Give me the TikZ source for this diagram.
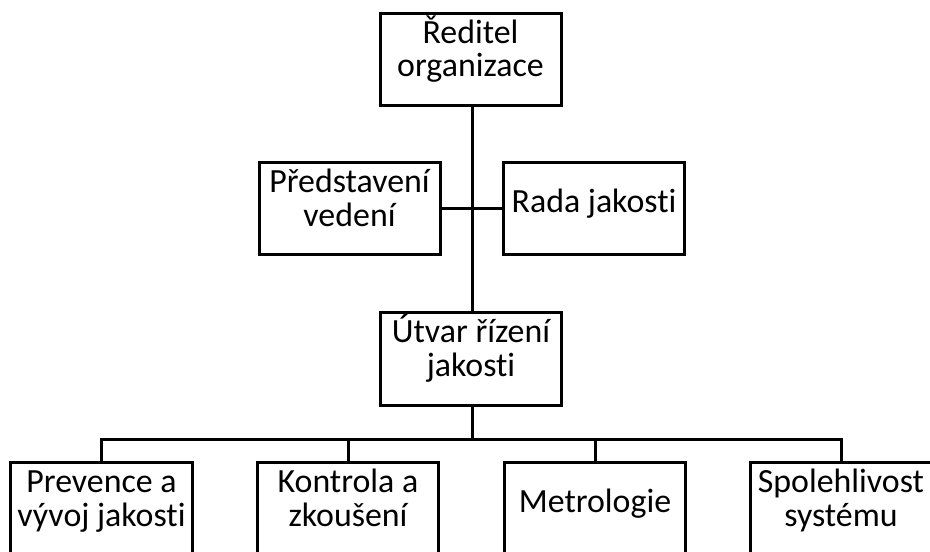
\documentclass[tikz,border=0pt]{standalone}
\usepackage{fontspec}
\setmainfont[Ligatures=NoCommon]{Carlito}
\begin{document}
\begin{tikzpicture}[x=1bp,y=-1bp,
  unit/.style={draw, line width=3bp, minimum width=181bp, minimum height=92bp,
    inner sep=0pt, align=center, font=\fontsize{34}{34}\selectfont},
  oneline/.style={unit, text height=25bp, text depth=17bp},
  twoline/.style={unit, text height=59bp, text depth=24bp},
  link/.style={line width=3bp}]
\useasboundingbox (0,0) rectangle (930,552);
\clip (0,0) rectangle (930,552);
% management
\node[twoline] (ceo) at (470.5,59.5) {Ředitel\\organizace};
\node[twoline] (board) at (349.5,209) {Představení\\vedení};
\node[oneline] (council) at (594,209) {Rada jakosti};
\node[twoline] (qa) at (471,359) {Útvar řízení\\jakosti};
% departments
\node[twoline] (d1) at (101.5,508.5) {Prevence a\\vývoj jakosti};
\node[twoline] (d2) at (348,508.5) {Kontrola a\\zkoušení};
\node[oneline] (d3) at (595,508.5) {Metrologie};
\node[twoline] (d4) at (841,508.5) {Spolehlivost\\systému};
% connectors
\draw[link] (ceo.south -| 472,0) -- (qa.north -| 472,0);
\draw[link] (board.east) -- (council.west);
\coordinate (bus) at (472,439);
\draw[link] (qa.south -| bus) -- (bus);
\foreach \d in {d1,d2,d3,d4}
  \draw[link] (bus) -| (\d.north);
\end{tikzpicture}
\end{document}
